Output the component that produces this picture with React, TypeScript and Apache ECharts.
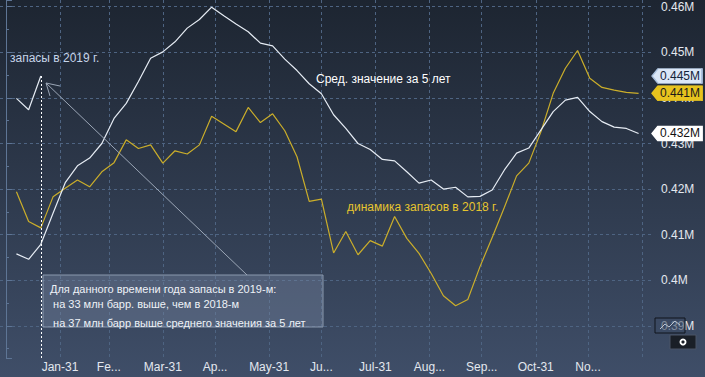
import React, { useEffect, useRef } from 'react';
import * as echarts from 'echarts';

// Seasonal axis: week dates (MM-DD) of 2018 series
const weeks = [
  '01-06', '01-13', '01-20', '01-27',
  '02-03', '02-10', '02-17', '02-24',
  '03-03', '03-10', '03-17', '03-24', '03-31',
  '04-07', '04-14', '04-21', '04-28',
  '05-05', '05-12', '05-19', '05-26',
  '06-02', '06-09', '06-16', '06-23', '06-30',
  '07-07', '07-14', '07-21', '07-28',
  '08-04', '08-11', '08-18', '08-25',
  '09-01', '09-08', '09-15', '09-22', '09-29',
  '10-06', '10-13', '10-20', '10-27',
  '11-03', '11-10', '11-17', '11-24',
  '12-01', '12-08', '12-15', '12-22', '12-29',
];

// million barrels
const avg5y = [
  405.8, 404.6, 407.9, 414.7, 421.4, 425.1, 426.8, 430.0,
  435.5, 438.8, 443.6, 448.7, 450.1, 452.3, 455.3, 457.2,
  459.9, 458.0, 456.2, 454.5, 452.0, 451.4, 448.5, 446.0,
  443.1, 440.9, 436.3, 433.3, 430.0, 428.7, 426.5, 426.2, 423.8, 421.3,
  422.0, 420.0, 420.4, 418.3, 418.4, 419.8, 424.2, 427.9,
  429.0, 433.0, 437.0, 439.5, 440.1, 437.0, 434.8, 433.6, 433.3, 432.2,
];

const stocks2018 = [
  419.4, 412.9, 411.5, 418.3, 420.2, 422.0, 420.5, 423.8,
  425.8, 430.8, 428.9, 429.7, 425.7, 428.4, 427.7, 429.7,
  436.0, 434.3, 432.6, 437.9, 434.6, 436.5, 432.8, 427.1,
  417.3, 417.8, 406.0, 410.7, 405.6, 408.7, 407.5, 414.0, 409.2, 405.9,
  401.5, 396.6, 394.4, 395.8, 403.0, 409.4, 416.0, 422.9,
  425.7, 432.6, 441.0, 446.5, 450.4, 444.3, 442.3, 441.7, 441.2, 441.0,
];

const stocks2019 = [439.9, 437.4, 444.8];

const gridDates = [
  '2017-12-31', '2018-01-31', '2018-02-28', '2018-03-31', '2018-04-30', '2018-05-31',
  '2018-06-30', '2018-07-31', '2018-08-31', '2018-09-30', '2018-10-31', '2018-11-30', '2018-12-31',
];
const labelDates = [
  '2018-01-31', '2018-02-28', '2018-03-31', '2018-04-30', '2018-05-31', '2018-06-30',
  '2018-07-31', '2018-08-31', '2018-09-30', '2018-10-31', '2018-11-30',
];
const monthLabels = ['Jan-31', 'Fe...', 'Mar-31', 'Ap...', 'May-31', 'Ju...', 'Jul-31', 'Aug...', 'Sep...', 'Oct-31', 'No...'];

const X_MIN = -3.43;
const X_MAX = 370.7;
const Y_MIN = 382.96;
const Y_MAX = 461.47;

const FONT = '"Liberation Sans", Arial, sans-serif';

function dayOf(s: string): number {
  const full = s.length === 5 ? '2018-' + s : s;
  const [y, m, d] = full.split('-').map(Number);
  return (Date.UTC(y, m - 1, d) - Date.UTC(2018, 0, 0)) / 86400000;
}

function fmtM(v: number): string {
  return `${parseFloat((v / 1000).toFixed(3))}M`;
}

const tagPath = 'path://M0,8 L7,0 L57,0 L57,16 L7,16 Z';

function tag(value: number, bg: string, fg: string, border: string) {
  return {
    silent: true,
    symbol: tagPath,
    symbolSize: [50, 15],
    symbolOffset: [25, 0],
    z: 20,
    itemStyle: { color: bg, borderColor: border, borderWidth: 1 },
    label: {
      show: true,
      position: 'inside',
      offset: [3, 0],
      formatter: fmtM(value),
      color: fg,
      fontSize: 12,
      fontFamily: FONT,
    },
    data: [{ coord: [X_MAX, value] }],
  };
}

export default function App() {
  const ref = useRef<HTMLDivElement>(null);
  useEffect(() => {
    if (!ref.current) return;
    const chart = echarts.init(ref.current, undefined, { renderer: 'svg' });
    const labelMap: Record<number, string> = {};
    labelDates.forEach((d, i) => { labelMap[dayOf(d)] = monthLabels[i]; });

    const gridColor = '#4e6482';
    const option: any = {
      animation: false,
      backgroundColor: new echarts.graphic.LinearGradient(0, 0, 0, 1, [
        { offset: 0, color: '#1d2531' },
        { offset: 1, color: '#3f4e68' },
      ]),
      textStyle: { fontFamily: FONT },
      grid: { left: 0, right: 53, top: 0, bottom: 19, containLabel: false },
      xAxis: {
        type: 'value',
        min: X_MIN,
        max: X_MAX,
        axisLine: { show: false },
        axisTick: { show: false, customValues: gridDates.map(dayOf) },
        axisLabel: {
          customValues: labelDates.map(dayOf),
          formatter: (v: number) => labelMap[Math.round(v)] ?? '',
          color: '#e3e8ef',
          fontSize: 12,
          fontFamily: FONT,
          margin: 3,
        },
        splitLine: { show: true, lineStyle: { color: gridColor, type: [3, 3], width: 1 } },
      },
      yAxis: {
        type: 'value',
        position: 'right',
        min: Y_MIN,
        max: Y_MAX,
        splitNumber: 8,
        axisLine: { show: true, lineStyle: { color: '#5e7595', width: 1 } },
        axisTick: { show: true, length: 6, lineStyle: { color: '#5e7595' } },
        minorTick: { show: true, splitNumber: 2, length: 3, lineStyle: { color: '#5e7595' } },
        axisLabel: {
          color: '#e3e8ef',
          fontSize: 12,
          fontFamily: FONT,
          margin: 9,
          showMinLabel: false,
          showMaxLabel: false,
          formatter: (v: number) => fmtM(v),
        },
        splitLine: {
          show: true,
          showMinLine: false,
          showMaxLine: false,
          lineStyle: { color: gridColor, type: [3, 3], width: 1 },
        },
      },
      series: [
        {
          name: '2018',
          type: 'line',
          data: weeks.map((w, i) => [dayOf(w), stocks2018[i]]),
          showSymbol: false,
          lineStyle: { color: '#cbae2a', width: 1.2 },
          z: 3,
          markPoint: tag(stocks2018[stocks2018.length - 1], '#e7c31e', '#1a1a1a', '#e7c31e'),
        },
        {
          name: 'avg5',
          type: 'line',
          data: weeks.map((w, i) => [dayOf(w), avg5y[i]]),
          showSymbol: false,
          lineStyle: { color: '#e6ecf4', width: 1.2 },
          z: 4,
          markPoint: tag(avg5y[avg5y.length - 1], '#ffffff', '#111111', '#ffffff'),
        },
        {
          name: '2019',
          type: 'line',
          data: stocks2019.map((v, i) => [dayOf(weeks[i]), v]),
          showSymbol: false,
          lineStyle: { color: '#e6ecf4', width: 1.2 },
          z: 5,
          markPoint: tag(stocks2019[stocks2019.length - 1], '#dbe7f7', '#13233a', '#aac0dd'),
          markLine: {
            silent: true,
            symbol: 'none',
            label: { show: false },
            lineStyle: { color: '#ffffff', type: [2, 2], width: 1 },
            data: [[
              { coord: [dayOf(weeks[2]), stocks2019[2]] },
              { coord: [dayOf(weeks[2]), Y_MIN] },
            ]],
          },
        },
      ],
      graphic: [
        {
          type: 'text', left: 10, top: 52, z: 30,
          style: { text: 'запасы в 2019 г.', fill: '#c6d5e9', font: `12px ${FONT}` },
        },
        {
          type: 'line', z: 30,
          shape: { x1: 46, y1: 83, x2: 247, y2: 275 },
          style: { stroke: '#9ba6b6', lineWidth: 1 },
        },
        {
          type: 'polyline', z: 30,
          shape: { points: [[60, 86], [46, 83], [50, 96]] },
          style: { stroke: '#9ba6b6', lineWidth: 1, fill: null },
        },
        {
          type: 'rect', z: 29,
          shape: { x: 43, y: 275, width: 280, height: 52 },
          style: { fill: 'rgba(120,136,162,0.4)', stroke: '#8a99ae', lineWidth: 1 },
        },
        {
          type: 'text', x: 50, y: 289, z: 31,
          style: { text: 'Для данного времени года запасы в 2019-м:', fill: '#eef2f7', font: `11px ${FONT}`, verticalAlign: 'middle' },
        },
        {
          type: 'text', x: 50, y: 304, z: 31,
          style: { text: ' на 33 млн барр. выше, чем в 2018-м', fill: '#eef2f7', font: `11px ${FONT}`, verticalAlign: 'middle' },
        },
        {
          type: 'text', x: 50, y: 323, z: 31,
          style: { text: ' на 37 млн барр выше среднего значения за 5 лет', fill: '#eef2f7', font: `11px ${FONT}`, verticalAlign: 'middle' },
        },
        {
          type: 'text', x: 316, y: 79, z: 31,
          style: { text: 'Сред. значение за 5 лет', fill: '#ffffff', font: `12px ${FONT}`, verticalAlign: 'middle' },
        },
        {
          type: 'text', x: 347, y: 207, z: 31,
          style: { text: 'динамика запасов в 2018 г.', fill: '#e6c52e', font: `12px ${FONT}`, verticalAlign: 'middle' },
        },
        {
          type: 'rect', z: 40,
          shape: { x: 655, y: 318, width: 30, height: 15 },
          style: { fill: 'rgba(60,75,100,0.6)', stroke: '#10151c', lineWidth: 1 },
        },
        {
          type: 'polyline', z: 41,
          shape: { points: [[660, 329], [665, 324], [669, 327], [675, 321], [680, 325]] },
          style: { stroke: '#b9c3d1', lineWidth: 1, fill: null },
        },
        {
          type: 'rect', z: 40,
          shape: { x: 670, y: 335, width: 26, height: 14 },
          style: { fill: '#1a1f27', stroke: '#4a5466', lineWidth: 1 },
        },
        {
          type: 'ring', z: 41,
          shape: { cx: 683, cy: 342, r: 3.5, r0: 1.6 },
          style: { fill: '#ffffff' },
        },
      ],
    };
    chart.setOption(option);
    return () => chart.dispose();
  }, []);
  return <div ref={ref} style={{ position: 'fixed', left: 0, top: 0, width: 705, height: 377 }} />;
}
